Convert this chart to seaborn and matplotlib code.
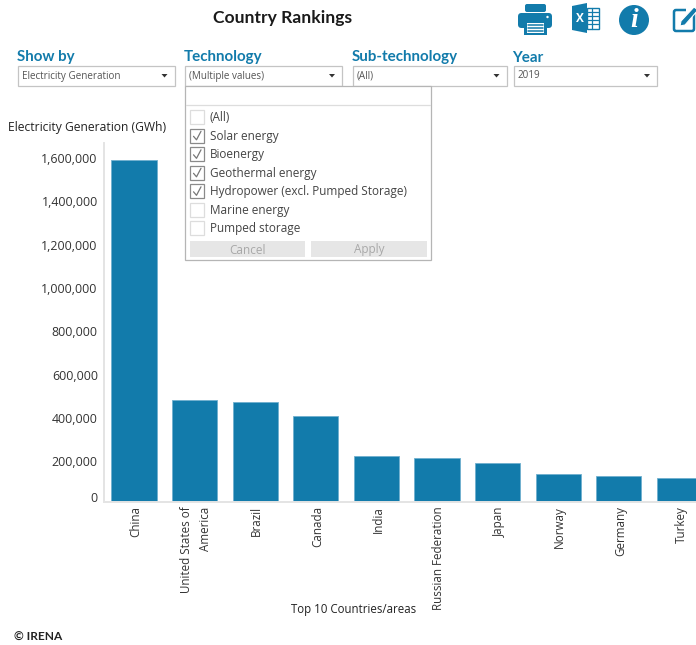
import matplotlib
matplotlib.use("Agg")
import matplotlib.pyplot as plt
from matplotlib.patches import Rectangle, Circle, Polygon, FancyBboxPatch
from matplotlib.lines import Line2D
from matplotlib.transforms import ScaledTranslation
import pandas as pd
import seaborn as sns

countries = ["China", "United States of\nAmerica", "Brazil", "Canada", "India",
             "Russian Federation", "Japan", "Norway", "Germany", "Turkey"]
generation_gwh = [1576000, 467000, 458000, 393000, 209000, 199000, 180000, 128000, 119000, 109000]
y_ticks = [0, 200000, 400000, 600000, 800000, 1000000, 1200000, 1400000, 1600000]
tech_options = ["(All)", "Solar energy", "Bioenergy", "Geothermal energy",
                "Hydropower (excl. Pumped Storage)", "Marine energy", "Pumped storage"]
tech_checked = [False, True, True, True, True, False, False]
filters = ["Show by", "Technology", "Sub-technology", "Year"]
filter_values = ["Electricity Generation", "(Multiple values)", "(All)", "2019"]

W, H = 696, 645
BLUE = "#127bab"
GREY_TEXT = "#333333"
BODY = "Open Sans"
HEAD = "Lato"

sns.set_theme(style="white")
plt.rcParams["font.family"] = [BODY, "DejaVu Sans"]

fig = plt.figure(figsize=(W / 100, H / 100), dpi=100, facecolor="white")

# chart axes: one category is 60.6 px wide, the last bar runs off the canvas
baseline, top = 501.5, 143.0
ax = fig.add_axes([104 / W, 1 - baseline / H, (W - 104) / W, (baseline - top) / H])
df = pd.DataFrame({"country": countries, "gwh": generation_gwh})
sns.barplot(data=df, x="country", y="gwh", color=BLUE, saturation=1, width=0.745,
            edgecolor="#6fb0cf", linewidth=0.6, ax=ax)
ax.set_xlim(-0.495, 9.274)
ax.set_ylim(0, (baseline - top) / 43.3 * 200000)
ax.set_yticks(y_ticks)
ax.set_yticklabels([f"{v:,}" for v in y_ticks], fontsize=8.9, color=GREY_TEXT)
ax.get_yticklabels()[0].set_verticalalignment("bottom")
ax.tick_params(axis="y", length=0, pad=4.5)
ax.tick_params(axis="x", length=0, pad=3.5, labelsize=8.4, labelcolor=GREY_TEXT)
ax.set_xticks(range(len(countries)))
ax.set_xticklabels(countries, rotation=90, ha="center", va="top", multialignment="right",
                   linespacing=1.65)
ax.set_xlabel("")
ax.set_ylabel("")

# value labels sit a little below their gridline position; category labels a little right
down = ScaledTranslation(0, -3 / 100, fig.dpi_scale_trans)
for lab in ax.get_yticklabels():
    lab.set_transform(lab.get_transform() + down)
right = ScaledTranslation(1.5 / 100, 0, fig.dpi_scale_trans)
for lab in ax.get_xticklabels():
    lab.set_transform(lab.get_transform() + right)

for side in ("top", "right"):
    ax.spines[side].set_visible(False)
for side in ("left", "bottom"):
    ax.spines[side].set_color("#e4e4e4")
    ax.spines[side].set_linewidth(1.4)

# overlay in pixel coordinates for the title, controls and footer
ui = fig.add_axes([0, 0, 1, 1], zorder=5)
ui.set_xlim(0, W)
ui.set_ylim(H, 0)
ui.axis("off")
ui.patch.set_alpha(0)

ui.text(282.5, 22.5, "Country Rankings", ha="center", va="baseline", fontsize=12.6,
        fontweight="bold", family=HEAD, color="#1a1a1a")
ui.text(8, 127, "Electricity Generation (GWh)", ha="left", va="center", fontsize=8.75, color="#222222")
ui.text(353.5, 610, "Top 10 Countries/areas", ha="center", va="center", fontsize=8.3, color="#222222")
ui.text(14, 641, "© IRENA", ha="left", va="baseline", fontsize=8.6, fontweight="bold",
        family=HEAD, color="#222222")

# filter headings and drop-down boxes
boxes = [(18, 174.5), (185, 342), (353, 506.5), (513.5, 657)]
for name, value, (x0, x1) in zip(filters, filter_values, boxes):
    ui.text(x0 - 1, 61.5, name, ha="left", va="baseline", fontsize=10.9, fontweight="bold",
            family=HEAD, color=BLUE)
    ui.add_patch(Rectangle((x0, 65.5), x1 - x0, 20, fc="white", ec="#c4c4c4", lw=0.9))
    ui.text(x0 + 4, 78.5, value, ha="left", va="baseline", fontsize=7.1, color="#555555")
    ui.add_patch(Polygon([(x1 - 13, 74), (x1 - 7, 74), (x1 - 10, 77.5)], fc="#333333", ec="none"))

# expanded technology list
ui.add_patch(Rectangle((185, 85.5), 245.5, 174.5, fc="white", ec="#b5b5b5", lw=0.9))
ui.add_line(Line2D([186, 430], [105, 105], color="#dddddd", lw=0.9))
for i, (label, checked) in enumerate(zip(tech_options, tech_checked)):
    cy = 117.3 + i * 18.5
    ui.add_patch(Rectangle((190, cy - 7), 14, 14, fc="white",
                           ec="#8a8a8a" if checked else "#dddddd", lw=0.9))
    if checked:
        ui.add_line(Line2D([193.5, 196.5, 201], [cy + 0.5, cy + 4, cy - 4.5], color="#777777", lw=0.9))
    ui.text(210, cy + 4, label, ha="left", va="baseline", fontsize=8.5, color="#444444")
for label, x0, x1 in [("Cancel", 190, 305), ("Apply", 311, 427)]:
    ui.add_patch(Rectangle((x0, 241), x1 - x0, 16, fc="#e6e6e6", ec="none"))
    ui.text((x0 + x1) / 2, 253.5, label, ha="center", va="baseline", fontsize=8.5, color="#a8a8a8")

# toolbar: printer
ui.add_patch(FancyBboxPatch((525, 4), 21, 8, boxstyle="round,pad=0,rounding_size=2", fc=BLUE, ec="none"))
ui.add_patch(FancyBboxPatch((518, 13), 34, 15, boxstyle="round,pad=0,rounding_size=3.5", fc=BLUE, ec="none"))
ui.add_patch(Rectangle((524, 20), 22.5, 15, fc=BLUE, ec="none"))
ui.add_patch(Rectangle((526.5, 22.5), 17.5, 10, fc="white", ec="none"))
for yy in (25, 28, 31):
    ui.add_line(Line2D([528, 542.5], [yy, yy], color=BLUE, lw=1.1))
ui.add_patch(Circle((547.5, 17), 1.2, fc="white", ec="none"))

# toolbar: spreadsheet
ui.add_patch(Polygon([(572, 6), (587, 3), (587, 33), (572, 30)], fc=BLUE, ec="none"))
ui.add_patch(Rectangle((587, 8), 11.5, 21, fc="white", ec=BLUE, lw=1))
for yy in (12, 16, 20, 24):
    ui.add_line(Line2D([588, 598], [yy, yy], color=BLUE, lw=0.9))
ui.add_line(Line2D([592, 592], [8, 29], color=BLUE, lw=0.9))
ui.text(579.5, 18, "X", ha="center", va="center", fontsize=8.5, fontweight="bold", color="white")

# toolbar: information
ui.add_patch(Circle((634, 20), 15, fc=BLUE, ec="none"))
ui.text(634, 20.5, "i", ha="center", va="center", fontsize=20, fontweight="bold",
        style="italic", family="Liberation Serif", color="white")

# toolbar: edit
ui.add_patch(FancyBboxPatch((674, 10), 20, 21, boxstyle="round,pad=0,rounding_size=2",
                            fc="none", ec=BLUE, lw=1.8))
ui.add_patch(Rectangle((686, 5), 12, 9, fc="white", ec="none"))
ui.add_patch(Polygon([(681, 21), (694, 7), (698, 10), (685, 25), (680, 26)], fc=BLUE, ec="white", lw=0.8))

fig.savefig("out.png", dpi=100)
